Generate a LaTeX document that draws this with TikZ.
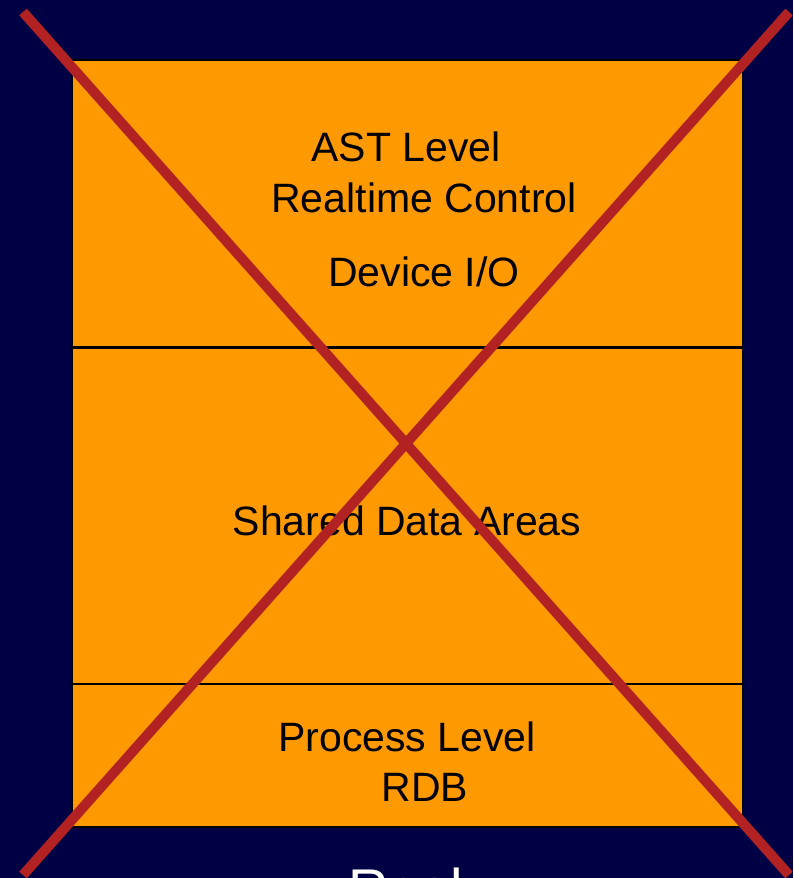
\documentclass[tikz,border=0pt]{standalone}
\usepackage{fontspec}
\setmainfont{Liberation Sans}
\definecolor{bgcol}{RGB}{0,0,68}
\definecolor{layercol}{RGB}{255,153,0}
\definecolor{crosscol}{RGB}{178,34,34}
\colorlet{edgecol}{black}
\tikzset{
  layertext/.style={anchor=base, inner sep=0pt, text=black,
    font=\fontsize{41}{49}\selectfont},
  titletext/.style={anchor=base west, inner sep=0pt, text=white,
    font=\fontsize{56}{66}\selectfont}
}

\begin{document}
\begin{tikzpicture}[x=1pt, y=-1pt]

  % Background and page size.
  \fill[bgcol] (0,0) rectangle (793,878);
  \useasboundingbox (0,0) rectangle (793,878);

  % Layer box.
  \draw[line width=2pt, edgecol, fill=layercol] (72,60) rectangle (743,827);

  % Dividers between the layers.
  \draw[line width=2.5pt, edgecol] (72,347.5) -- (743,347.5);
  \draw[line width=2.5pt, edgecol] (72,684) -- (743,684);

  % Top layer.
  \node[layertext] (ast) at (406,161) {AST Level};
  \node[layertext] (rtc) at (424,212) {Realtime Control};
  \node[layertext] (dio) at (424,286) {Device I/O};

  % Middle layer.
  \node[layertext] (sda) at (407,535) {Shared Data Areas};

  % Bottom layer.
  \node[layertext] (plv) at (407,751) {Process Level};
  \node[layertext] (rdb) at (425,801) {RDB};

  % Title, cut off by the page edge.
  \node[titletext] (title) at (348,908) {Real};

  % Crossing out.
  \draw[line width=10pt, crosscol] (23,12) -- (789,875);
  \draw[line width=10pt, crosscol] (789,12) -- (23,875);

\end{tikzpicture}
\end{document}
